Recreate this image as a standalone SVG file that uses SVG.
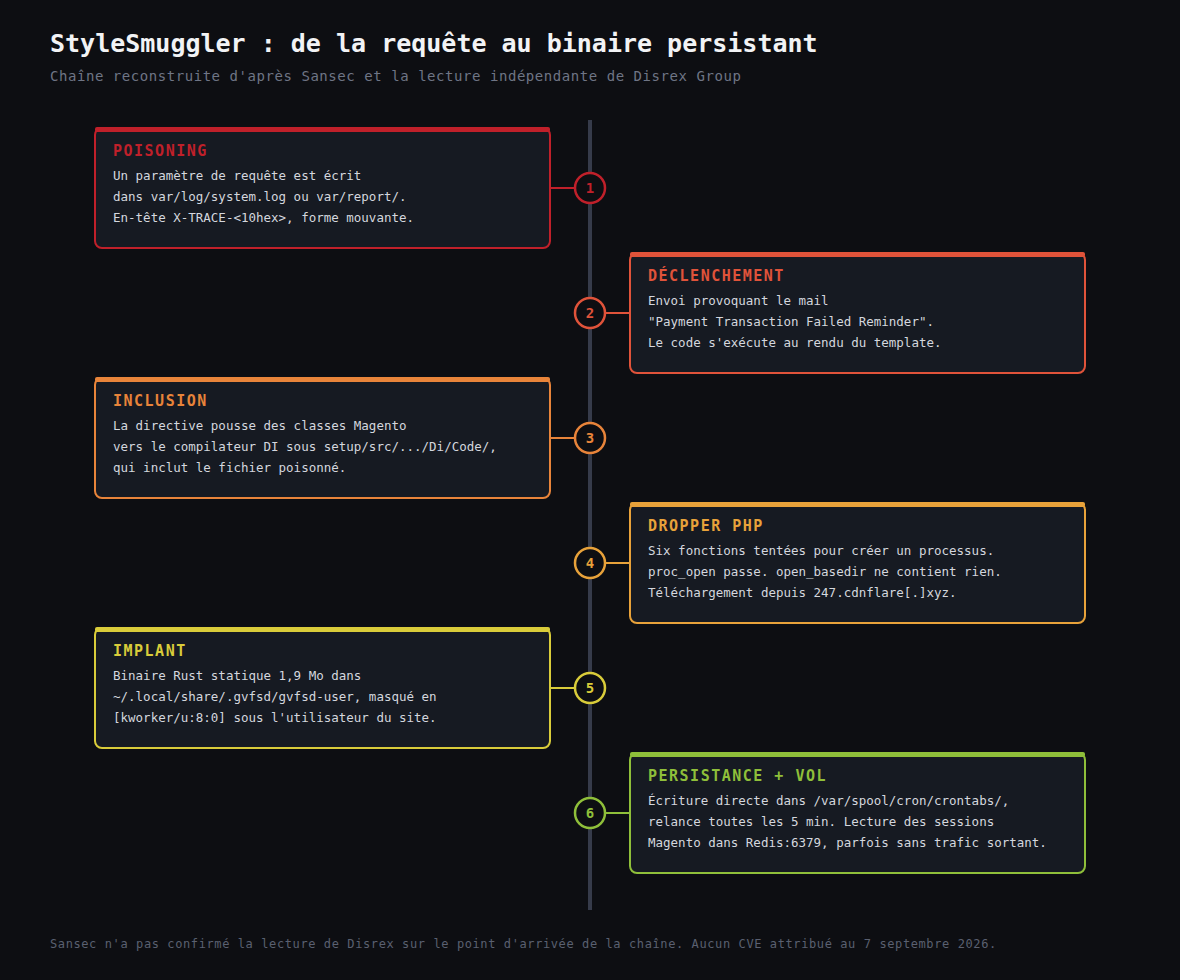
<svg xmlns="http://www.w3.org/2000/svg" width="1180" height="980" viewBox="0 0 1180 980">
<style>
text{font-family:"DejaVu Sans Mono","Liberation Mono",monospace}
.t{font-size:25px;font-weight:bold;fill:#f2f3f5}
.s{font-size:14px;letter-spacing:0.55px;fill:#6f7585}
.f{font-size:12px;letter-spacing:0.6px;fill:#5a6070}
.box{fill:#161a22;stroke-width:2}
.h{font-size:15px;font-weight:bold;letter-spacing:1.5px}
.b{font-size:12.5px;fill:#d4d7de}
.n{font-size:14px;font-weight:bold;text-anchor:middle}
.c{fill:#0d0e12;stroke-width:2.5}
</style>
<rect width="1180" height="980" fill="#0d0e12"/>
<text class="t" x="50" y="52">StyleSmuggler : de la requête au binaire persistant</text>
<text class="s" x="50" y="81">Chaîne reconstruite d'après Sansec et la lecture indépendante de Disrex Group</text>
<line x1="590" y1="120" x2="590" y2="910" stroke="#363b4a" stroke-width="4"/>
<g id="connectors" stroke-width="2">
<line x1="550" y1="188" x2="575" y2="188" stroke="#c0202a"/>
<line x1="605" y1="313" x2="630" y2="313" stroke="#e0533a"/>
<line x1="550" y1="438" x2="575" y2="438" stroke="#e8843a"/>
<line x1="605" y1="563" x2="630" y2="563" stroke="#e8a23a"/>
<line x1="550" y1="688" x2="575" y2="688" stroke="#d9cc3a"/>
<line x1="605" y1="813" x2="630" y2="813" stroke="#8fbf3a"/>
</g>
<g id="n1"><rect class="box" x="95" y="128" width="455" height="120" rx="7" stroke="#c0202a"/><rect x="95" y="127" width="455" height="5" rx="2" fill="#c0202a"/>
<text class="h" x="113" y="156" fill="#c0202a">POISONING</text>
<text class="b" x="113" y="180">Un paramètre de requête est écrit</text><text class="b" x="113" y="201">dans var/log/system.log ou var/report/.</text><text class="b" x="113" y="222">En-tête X-TRACE-&lt;10hex&gt;, forme mouvante.</text>
<circle class="c" cx="590" cy="188" r="15" stroke="#c0202a"/><text class="n" x="590" y="193" fill="#c0202a">1</text></g>
<g id="n2"><rect class="box" x="630" y="253" width="455" height="120" rx="7" stroke="#e0533a"/><rect x="630" y="252" width="455" height="5" rx="2" fill="#e0533a"/>
<text class="h" x="648" y="281" fill="#e0533a">DÉCLENCHEMENT</text>
<text class="b" x="648" y="305">Envoi provoquant le mail</text><text class="b" x="648" y="326">"Payment Transaction Failed Reminder".</text><text class="b" x="648" y="347">Le code s'exécute au rendu du template.</text>
<circle class="c" cx="590" cy="313" r="15" stroke="#e0533a"/><text class="n" x="590" y="318" fill="#e0533a">2</text></g>
<g id="n3"><rect class="box" x="95" y="378" width="455" height="120" rx="7" stroke="#e8843a"/><rect x="95" y="377" width="455" height="5" rx="2" fill="#e8843a"/>
<text class="h" x="113" y="406" fill="#e8843a">INCLUSION</text>
<text class="b" x="113" y="430">La directive pousse des classes Magento</text><text class="b" x="113" y="451">vers le compilateur DI sous setup/src/.../Di/Code/,</text><text class="b" x="113" y="472">qui inclut le fichier poisonné.</text>
<circle class="c" cx="590" cy="438" r="15" stroke="#e8843a"/><text class="n" x="590" y="443" fill="#e8843a">3</text></g>
<g id="n4"><rect class="box" x="630" y="503" width="455" height="120" rx="7" stroke="#e8a23a"/><rect x="630" y="502" width="455" height="5" rx="2" fill="#e8a23a"/>
<text class="h" x="648" y="531" fill="#e8a23a">DROPPER PHP</text>
<text class="b" x="648" y="555">Six fonctions tentées pour créer un processus.</text><text class="b" x="648" y="576">proc_open passe. open_basedir ne contient rien.</text><text class="b" x="648" y="597">Téléchargement depuis 247.cdnflare[.]xyz.</text>
<circle class="c" cx="590" cy="563" r="15" stroke="#e8a23a"/><text class="n" x="590" y="568" fill="#e8a23a">4</text></g>
<g id="n5"><rect class="box" x="95" y="628" width="455" height="120" rx="7" stroke="#d9cc3a"/><rect x="95" y="627" width="455" height="5" rx="2" fill="#d9cc3a"/>
<text class="h" x="113" y="656" fill="#d9cc3a">IMPLANT</text>
<text class="b" x="113" y="680">Binaire Rust statique 1,9 Mo dans</text><text class="b" x="113" y="701">~/.local/share/.gvfsd/gvfsd-user, masqué en</text><text class="b" x="113" y="722">[kworker/u:8:0] sous l'utilisateur du site.</text>
<circle class="c" cx="590" cy="688" r="15" stroke="#d9cc3a"/><text class="n" x="590" y="693" fill="#d9cc3a">5</text></g>
<g id="n6"><rect class="box" x="630" y="753" width="455" height="120" rx="7" stroke="#8fbf3a"/><rect x="630" y="752" width="455" height="5" rx="2" fill="#8fbf3a"/>
<text class="h" x="648" y="781" fill="#8fbf3a">PERSISTANCE + VOL</text>
<text class="b" x="648" y="805">Écriture directe dans /var/spool/cron/crontabs/,</text><text class="b" x="648" y="826">relance toutes les 5 min. Lecture des sessions</text><text class="b" x="648" y="847">Magento dans Redis:6379, parfois sans trafic sortant.</text>
<circle class="c" cx="590" cy="813" r="15" stroke="#8fbf3a"/><text class="n" x="590" y="818" fill="#8fbf3a">6</text></g>
<text class="f" x="50" y="948">Sansec n'a pas confirmé la lecture de Disrex sur le point d'arrivée de la chaîne. Aucun CVE attribué au 7 septembre 2026.</text>
</svg>
